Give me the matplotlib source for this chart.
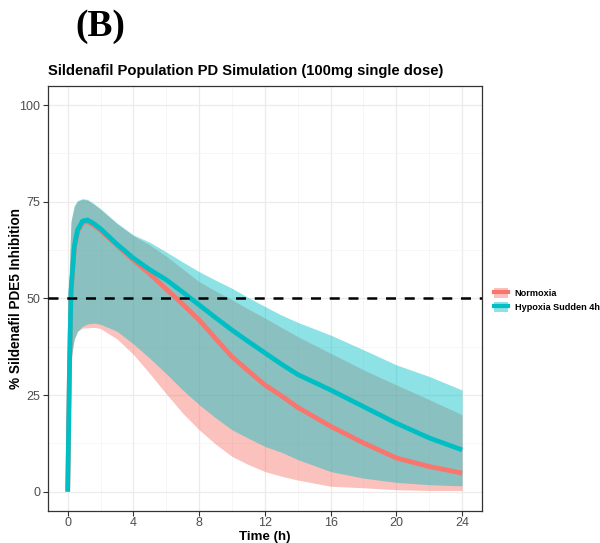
import matplotlib
matplotlib.use("Agg")
import matplotlib.pyplot as plt
from matplotlib.patches import Patch
from matplotlib.lines import Line2D
from matplotlib.ticker import MultipleLocator

plt.rcParams["font.family"] = ["Liberation Sans", "DejaVu Sans"]

# Simulation output: time grid (h) and inhibition percentiles (%)
time_h = [0, 0.1, 0.2, 0.4, 0.6, 0.9, 1.2, 1.6, 2, 3, 4, 5, 6, 7, 8, 9, 10,
          11, 12, 13, 14, 16, 18, 20, 22, 24]

normoxia_median = [0, 29.5, 51.5, 63.0, 67.3, 69.6, 69.9, 68.9, 67.6, 63.7,
                   59.9, 56.3, 52.4, 48.5, 44.4, 39.6, 34.9, 31.2, 27.6,
                   24.8, 21.8, 16.9, 12.6, 8.7, 6.5, 4.8]
normoxia_upper = [0, 57.5, 69.8, 73.8, 75.1, 75.6, 75.4, 74.3, 73.0, 69.3,
                  66.2, 63.8, 60.9, 57.6, 54.3, 51.9, 49.6, 47.2, 44.9, 42.5,
                  40.1, 35.8, 31.5, 27.6, 23.8, 19.9]
normoxia_lower = [0, 19.0, 34.0, 39.5, 41.5, 42.3, 42.4, 42.5, 42.2, 39.5,
                  35.5, 30.5, 25.3, 20.3, 16.0, 12.3, 9.1, 7.0, 5.2, 4.0,
                  3.0, 1.4, 1.0, 0.5, 0.3, 0.3]

hypoxia_median = [0, 30.0, 52.0, 63.5, 67.7, 70.0, 70.3, 69.3, 68.0, 64.0,
                  60.4, 57.4, 54.8, 51.6, 48.3, 45.0, 41.8, 38.8, 35.9, 33.0,
                  30.3, 26.3, 22.0, 17.7, 13.9, 10.8]
hypoxia_upper = [0, 58.0, 70.0, 74.0, 75.3, 75.8, 75.6, 74.5, 73.2, 69.5,
                 66.4, 64.5, 62.0, 59.4, 56.9, 54.7, 52.6, 50.2, 47.9, 45.7,
                 43.8, 40.5, 36.7, 32.8, 29.8, 26.3]
hypoxia_lower = [0, 20.0, 35.0, 39.5, 41.5, 42.8, 43.4, 43.6, 43.3, 41.5,
                 38.2, 34.5, 30.5, 26.3, 22.5, 19.1, 16.0, 13.8, 11.7, 10.2,
                 8.3, 5.2, 3.5, 2.4, 1.8, 1.5]

groups = ["Normoxia", "Hypoxia Sudden 4h"]
colors = ["#F8766D", "#00BFC4"]
threshold = 50

x_ticks = [0, 4, 8, 12, 16, 20, 24]
y_ticks = [0, 25, 50, 75, 100]

fig = plt.figure(figsize=(6.0, 5.43), dpi=100)
ax = fig.add_axes([0.080, 0.059, 0.723, 0.783])

band_alpha = 0.45
series = [(normoxia_lower, normoxia_upper, normoxia_median),
          (hypoxia_lower, hypoxia_upper, hypoxia_median)]

for (lo, hi, _), col in zip(series, colors):
    ax.fill_between(time_h, lo, hi, color=col, alpha=band_alpha,
                    linewidth=0, zorder=2)
for (_, _, med), col in zip(series, colors):
    ax.plot(time_h, med, color=col, lw=3.4, solid_capstyle="butt", zorder=3)

ax.axhline(threshold, color="black", lw=1.8, ls=(0, (4, 3.5)), zorder=4)

# theme_bw-like styling
ax.set_xlim(-1.2, 25.2)
ax.set_ylim(-5, 105)
ax.set_xticks(x_ticks)
ax.set_yticks(y_ticks)
ax.xaxis.set_minor_locator(MultipleLocator(2))
ax.yaxis.set_minor_locator(MultipleLocator(12.5))
ax.grid(which="major", color="#EBEBEB", lw=0.9, zorder=0)
ax.grid(which="minor", color="#F3F3F3", lw=0.5, zorder=0)
ax.set_axisbelow(True)
for s in ax.spines.values():
    s.set_color("#333333")
    s.set_linewidth(0.9)
ax.tick_params(which="major", length=3.5, width=0.8, color="#333333",
               labelsize=9, labelcolor="#4D4D4D", pad=2)
ax.tick_params(axis="x", which="major", pad=1)
ax.tick_params(which="minor", length=0)

ax.set_xlabel("Time (h)", fontsize=9.6, fontweight="bold")
ax.set_ylabel("% Sildenafil PDE5 Inhibition", fontsize=9.8,
              fontweight="bold")
ax.xaxis.set_label_coords(0.5, -0.047)
ax.yaxis.set_label_coords(-0.058, 0.5)
ax.set_title("Sildenafil Population PD Simulation (100mg single dose)",
             fontsize=10.6, fontweight="bold", loc="left", pad=8)

fig.text(0.125, 0.951, "(B)", fontsize=27, fontweight="bold",
         family=["Liberation Serif", "DejaVu Serif"], ha="left", va="center")

handles = [(Patch(facecolor=c, alpha=band_alpha, linewidth=0),
            Line2D([], [], color=c, lw=3)) for c in colors]
fig.legend(handles, groups, loc="center left",
           bbox_to_anchor=(0.815, 0.447), frameon=False,
           prop={"size": 6.6, "weight": "bold"}, handlelength=1.5,
           handleheight=1.2, labelspacing=0.45, handletextpad=0.7,
           borderaxespad=0.2)

fig.savefig("out.png", dpi=100)
